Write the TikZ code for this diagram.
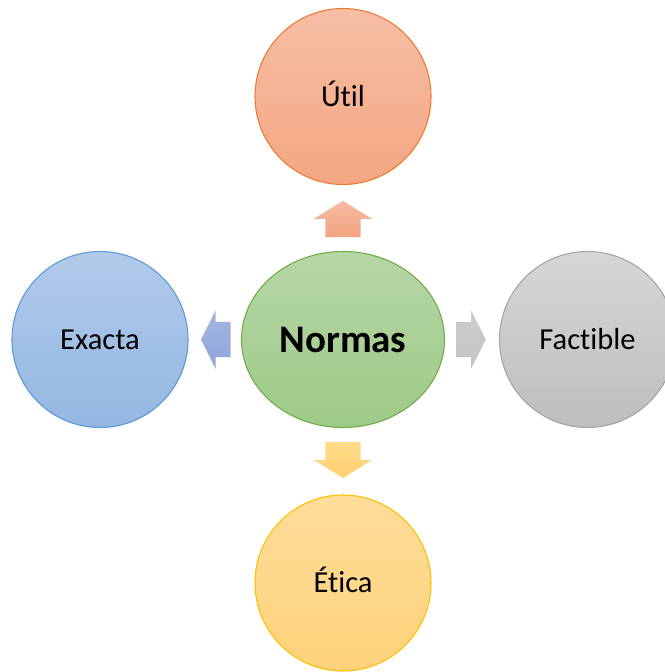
\documentclass[tikz,border=0pt]{standalone}
\usepackage{fontspec}
\setmainfont[Ligatures=NoCommon]{Carlito}
\usepackage{tikz}
\usetikzlibrary{shapes.geometric}
\usetikzlibrary{calc}
\definecolor{utilA}{HTML}{F6BEA4}
\definecolor{utilB}{HTML}{F4A683}
\definecolor{utilD}{HTML}{ED7D31}
\definecolor{normA}{HTML}{B6D6A6}
\definecolor{normB}{HTML}{9DCA88}
\definecolor{normD}{HTML}{70AD47}
\definecolor{exacA}{HTML}{B1CAEB}
\definecolor{exacB}{HTML}{94B7E2}
\definecolor{exacD}{HTML}{5B9BD5}
\definecolor{factA}{HTML}{D6D6D6}
\definecolor{factB}{HTML}{BEBEBE}
\definecolor{factD}{HTML}{A5A5A5}
\definecolor{eticA}{HTML}{FEDD9A}
\definecolor{eticB}{HTML}{FED27B}
\definecolor{eticD}{HTML}{FFC000}
\definecolor{flUpA}{HTML}{F5BBA2}
\definecolor{flUpB}{HTML}{F4A482}
\definecolor{flLfA}{HTML}{A4B5E2}
\definecolor{flLfB}{HTML}{8EA6DA}
\definecolor{flRtA}{HTML}{CCCCCC}
\definecolor{flRtB}{HTML}{C4C4C4}
\definecolor{flDnA}{HTML}{FFDB8C}
\definecolor{flDnB}{HTML}{FFCF70}
\tikzset{
	bubble/.style={
			circle, inner sep=0pt, minimum size=176pt, line width=1.1pt,
			text height=19.6pt, text depth=0pt,
			font=\fontsize{30.5}{36}\selectfont
		}
}

\begin{document}
\begin{tikzpicture}[x=1pt,y=-1pt]
			\useasboundingbox (0,0) rectangle (664,672);
			\node[ellipse, inner sep=0pt, minimum width=203pt, minimum height=176pt, line width=1.1pt,
				draw=normD, top color=normA, bottom color=normB,
				font=\fontsize{39}{44}\selectfont\bfseries] (normas) at (343,339.5) {Normas};
			\node[bubble, draw=utilD, top color=utilA, bottom color=utilB] (util) at (343,96.5) {Útil};
			\node[bubble, draw=exacD, top color=exacA, bottom color=exacB] (exacta) at (100,339.5) {Exacta};
			\node[bubble, draw=factD, top color=factA, bottom color=factB] (factible) at (587.5,339.5) {Factible};
			\node[bubble, draw=eticD, top color=eticA, bottom color=eticB] (etica) at (343,583) {Ética};
			% block arrows out of the centre
			\foreach \ux/\uy/\s/\b/\t/\ca/\cb in {0/-1/102.5/120.7/138.7/flUpA/flUpB,
					-1/0/112.5/127.5/142/flLfA/flLfB,
					1/0/113/128.2/142.8/flRtA/flRtB,
					0/1/102.5/120.5/138.5/flDnA/flDnB}
				\shade[top color=\ca, bottom color=\cb, shift={(normas.center)}]
				({\ux*\s+\uy*17.6},{\uy*\s-\ux*17.6}) -- ({\ux*\b+\uy*17.6},{\uy*\b-\ux*17.6}) --
				({\ux*\b+\uy*29},{\uy*\b-\ux*29}) -- ({\ux*\t},{\uy*\t}) --
				({\ux*\b-\uy*29},{\uy*\b+\ux*29}) -- ({\ux*\b-\uy*17.6},{\uy*\b+\ux*17.6}) --
				({\ux*\s-\uy*17.6},{\uy*\s+\ux*17.6}) -- cycle;
		\end{tikzpicture}
\end{document}
